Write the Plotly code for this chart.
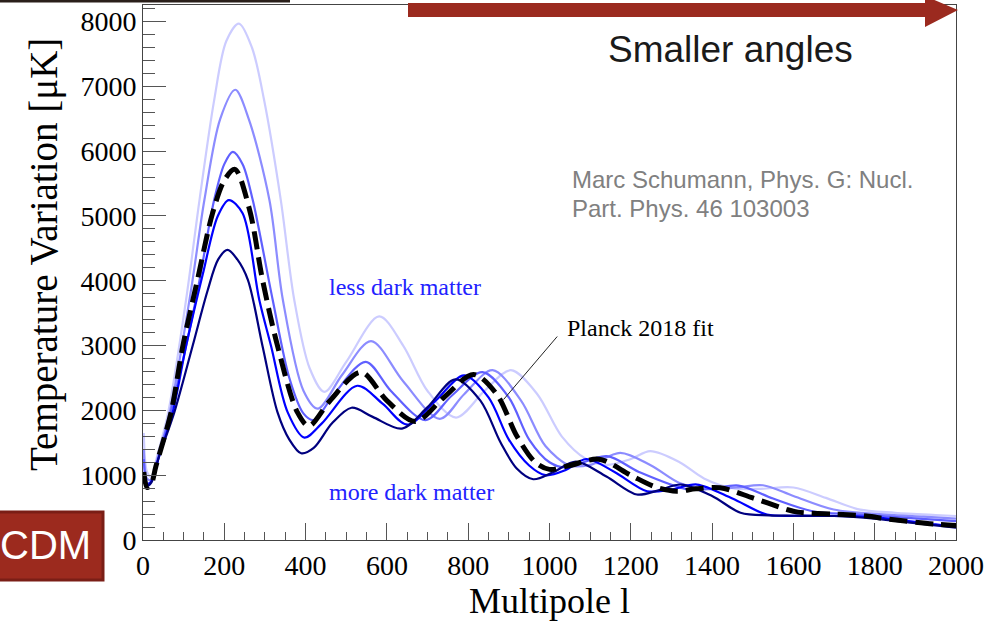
import plotly.graph_objects as go

# CMB temperature power spectra for different dark-matter densities
# (lightest = less dark matter, darkest = more dark matter) and the Planck 2018 fit.

ell_dm1 = [2, 10, 20, 35, 62, 106, 139, 175, 205, 236, 268, 298, 339, 372, 410, 446, 500, 581, 640, 700, 770, 840, 905, 970, 1030, 1090, 1140, 1200, 1248, 1320, 1380, 1450, 1520, 1600, 1680, 1758, 1850, 1950, 2000]
cl_dm1 = [1650, 1050, 980, 1300, 1969, 3708, 5246, 6785, 7700, 7970, 7600, 6785, 5246, 3708, 2650, 2287, 2750, 3450, 3000, 2300, 1890, 2300, 2620, 2250, 1600, 1250, 1160, 1250, 1370, 1200, 950, 800, 790, 810, 650, 477, 420, 385, 370]

ell_dm2 = [2, 10, 20, 35, 66, 118, 151, 190, 227, 260, 311, 344, 395, 430, 490, 561, 640, 730, 790, 860, 930, 990, 1050, 1100, 1174, 1250, 1320, 1390, 1460, 1525, 1600, 1699, 1830, 1920, 2000]
cl_dm2 = [1400, 950, 930, 1250, 1969, 3850, 5246, 6500, 6948, 6500, 5246, 3708, 2300, 2026, 2550, 3070, 2450, 1870, 2250, 2620, 2150, 1450, 1150, 1160, 1346, 1150, 880, 790, 810, 845, 680, 470, 393, 360, 330]

ell_dm3 = [2, 10, 20, 35, 68, 130, 175, 200, 221, 245, 270, 319, 360, 395, 420, 470, 548, 610, 695, 760, 835, 900, 950, 1000, 1040, 1141, 1220, 1340, 1400, 1465, 1550, 1650, 1750, 1880, 2000]
cl_dm3 = [1250, 880, 900, 1200, 1969, 3708, 5246, 5800, 5990, 5800, 5246, 3708, 2500, 1950, 1850, 2250, 2750, 2300, 1850, 2230, 2590, 2200, 1550, 1200, 1120, 1293, 1050, 780, 790, 840, 640, 440, 400, 340, 290]

ell_dm4 = [2, 10, 20, 40, 73, 106, 147, 184, 211, 245, 286, 315, 356, 397, 440, 527, 590, 650, 720, 790, 850, 900, 950, 990, 1040, 1090, 1160, 1240, 1300, 1363, 1450, 1535, 1620, 1750, 1850, 1950, 2000]
cl_dm4 = [1000, 850, 900, 1300, 1969, 2994, 4100, 5000, 5246, 5041, 3708, 2994, 1969, 1580, 1800, 2380, 2100, 1780, 2150, 2540, 2200, 1550, 1150, 1000, 1080, 1250, 1050, 753, 780, 856, 640, 393, 375, 370, 320, 240, 200]

ell_dm5 = [2, 8, 20, 40, 77, 122, 159, 185, 208, 232, 258, 294, 331, 360, 389, 420, 465, 513, 565, 637, 700, 768, 830, 880, 920, 960, 1010, 1065, 1140, 1215, 1270, 1324, 1400, 1470, 1540, 1600, 1700, 1800, 1900, 2000]
cl_dm5 = [950, 830, 880, 1300, 1969, 2994, 3850, 4330, 4477, 4330, 4015, 2994, 1969, 1550, 1338, 1420, 1800, 2041, 1900, 1720, 2050, 2480, 2150, 1500, 1100, 938, 1050, 1210, 980, 702, 770, 856, 680, 420, 380, 374, 370, 330, 260, 190]

ell_planck = [2, 10, 20, 32, 69, 98, 134, 171, 200, 226, 262, 294, 331, 380, 408, 460, 536, 600, 670, 740, 813, 870, 920, 965, 1000, 1050, 1122, 1200, 1260, 1313, 1360, 1420, 1500, 1584, 1611, 1698, 1780, 1833, 1946, 2000]
cl_planck = [1050, 810, 860, 1143, 1969, 2994, 4015, 5041, 5550, 5720, 5100, 4015, 2994, 1969, 1760, 2150, 2590, 2150, 1830, 2200, 2555, 2250, 1600, 1200, 1090, 1150, 1246, 1000, 820, 753, 790, 805, 650, 470, 430, 400, 370, 323, 246, 225]

series = [
    (ell_dm1, cl_dm1, "#ccccff"),
    (ell_dm2, cl_dm2, "#8c8cff"),
    (ell_dm3, cl_dm3, "#6060ff"),
    (ell_dm4, cl_dm4, "#0000ff"),
    (ell_dm5, cl_dm5, "#00007f"),
]

x_ticks = list(range(0, 2001, 200))
y_ticks = list(range(0, 8001, 1000))

serif = "Liberation Serif, Times New Roman, serif"
sans = "Liberation Sans, Arial, sans-serif"

fig = go.Figure()
for ell, cl, col in series:
    fig.add_trace(go.Scatter(x=ell, y=cl, mode="lines",
                             line=dict(color=col, width=2.2, shape="spline", smoothing=0.9),
                             hoverinfo="skip", showlegend=False))
fig.add_trace(go.Scatter(x=ell_planck, y=cl_planck, mode="lines",
                         line=dict(color="black", width=5, dash="18px,8px", shape="spline", smoothing=0.9),
                         hoverinfo="skip", showlegend=False))

axis_common = dict(showgrid=False, zeroline=False, showline=True, linecolor="#444444",
                   linewidth=1, mirror=True, ticks="inside", tickcolor="#555555",
                   tickfont=dict(family=serif, size=28, color="black"))

fig.update_xaxes(range=[0, 2000], tickvals=x_ticks, ticklen=17,
                 minor=dict(ticks="inside", dtick=50, ticklen=8, tickcolor="#555555"),
                 title=dict(text="Multipole l", font=dict(family=serif, size=36, color="black"), standoff=6),
                 **axis_common)
fig.update_yaxes(range=[0, 8256], tickvals=y_ticks, ticklen=23,
                 minor=dict(ticks="inside", dtick=200, ticklen=12, tickcolor="#555555"),
                 **axis_common)

def px_x(px):
    return (px - 143.0) / 813.0

def px_y(py):
    return (540.0 - py) / 535.0

shapes = [
    # pointer to the Planck curve
    dict(type="line", xref="x", yref="y", x0=1019, y0=3140, x1=887, y1=2168,
         line=dict(color="#222222", width=1)),
    # arrow along the top
    dict(type="path", xref="paper", yref="paper",
         path=(f"M {px_x(408)} {px_y(3)} L {px_x(925)} {px_y(3)} L {px_x(925)} {px_y(-4)} "
               f"L {px_x(958)} {px_y(10)} L {px_x(925)} {px_y(27)} L {px_x(925)} {px_y(17)} "
               f"L {px_x(408)} {px_y(17)} Z"),
         fillcolor="#9b2a1f", line=dict(width=0)),
    # dark rule at the top left
    dict(type="rect", xref="paper", yref="paper", x0=px_x(0), x1=px_x(290), y0=px_y(2.5), y1=px_y(0),
         fillcolor="#2a1f1a", line=dict(width=0)),
    # red label box
    dict(type="rect", xref="paper", yref="paper", x0=px_x(-5), x1=px_x(103), y0=px_y(580), y1=px_y(512),
         fillcolor="#9c2a1e", line=dict(color="#7a1e16", width=3)),
]

annotations = [
    dict(text="Temperature Variation [μK]", x=px_x(44), y=px_y(255), xref="paper", yref="paper",
         textangle=-90, showarrow=False, xanchor="center", yanchor="middle",
         font=dict(family=serif, size=39, color="black")),
    dict(text="Smaller angles", x=1445, y=7569, xref="x", yref="y", showarrow=False,
         font=dict(family=sans, size=37, color="#1a1a1a")),
    dict(text="Marc Schumann, Phys. G: Nucl.", x=1050, y=5563, xref="x", yref="y", xanchor="left",
         showarrow=False, font=dict(family=sans, size=24, color="#808080")),
    dict(text="Part. Phys. 46 103003", x=1050, y=5116, xref="x", yref="y", xanchor="left",
         showarrow=False, font=dict(family=sans, size=24, color="#808080")),
    dict(text="less dark matter", x=644, y=3912, xref="x", yref="y", showarrow=False,
         font=dict(family=serif, size=24, color="#2222ff")),
    dict(text="more dark matter", x=660, y=748, xref="x", yref="y", showarrow=False,
         font=dict(family=serif, size=24, color="#2222ff")),
    dict(text="Planck 2018 fit", x=1038, y=3264, xref="x", yref="y", xanchor="left", showarrow=False,
         font=dict(family=serif, size=24, color="black")),
    dict(text="CDM", x=px_x(93), y=px_y(545), xref="paper", yref="paper", xanchor="right",
         yanchor="middle", showarrow=False, font=dict(family=sans, size=40, color="white")),
]

fig.update_layout(width=994, height=621, margin=dict(l=143, r=38, t=5, b=81),
                  paper_bgcolor="white", plot_bgcolor="white",
                  shapes=shapes, annotations=annotations)

fig.write_html("out.html")
